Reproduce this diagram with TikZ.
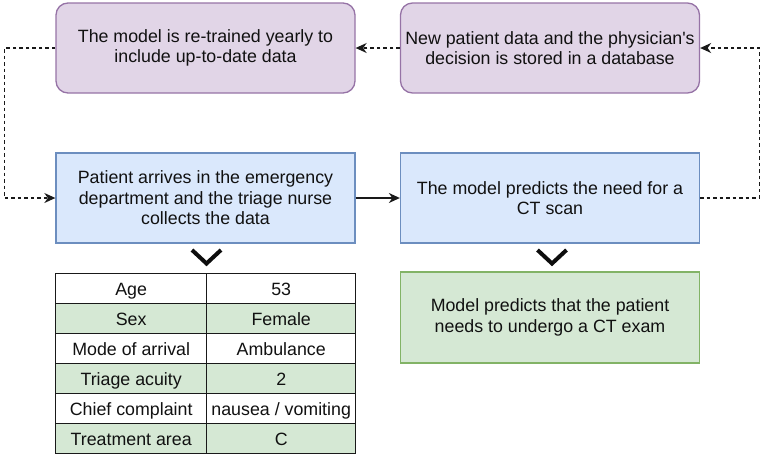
\documentclass[tikz,border=0pt]{standalone}
\usepackage{fontspec}
\setmainfont{Liberation Sans}[Ligatures=TeXOff]
\usetikzlibrary{arrows.meta}
\definecolor{pfill}{HTML}{E1D5E7}
\definecolor{pdraw}{HTML}{9673A6}
\definecolor{bfill}{HTML}{DAE8FC}
\definecolor{bdraw}{HTML}{6C8EBF}
\definecolor{gfill}{HTML}{D5E8D4}
\definecolor{gdraw}{HTML}{82B366}
\definecolor{txtc}{HTML}{111111}
\begin{document}
\begin{tikzpicture}[x=1pt,y=-1pt,
  txt/.style={font=\fontsize{17.8}{20.5}\selectfont, align=center, text=txtc},
  purplebox/.style={txt, rectangle, rounded corners=12pt, fill=pfill, draw=pdraw, line width=1.3pt, minimum width=299pt, minimum height=90pt, inner sep=0pt},
  bluebox/.style={txt, rectangle, fill=bfill, draw=bdraw, line width=1.3pt, minimum width=299pt, minimum height=90pt, inner sep=0pt},
  greenbox/.style={txt, rectangle, fill=gfill, draw=gdraw, line width=1.3pt, minimum width=299pt, minimum height=91pt, inner sep=0pt},
  cellbase/.style={font=\fontsize{17.8}{20}\selectfont, text=txtc, rectangle, draw=black!90, line width=1.4pt, minimum height=30pt, inner sep=0pt, text height=12.6pt, text depth=0pt, anchor=north west},
  lcell/.style={cellbase, minimum width=151pt},
  rcell/.style={cellbase, minimum width=149pt},
  greenrow/.style={fill=gfill},
  whiterow/.style={fill=white},
  conn/.style={line width=1.3pt, black!90, -{Stealth[length=11pt,width=10pt,inset=3.5pt]}},
  dconn/.style={conn, dash pattern=on 3.5pt off 3pt},
  chev/.style={line width=4pt, black!95, miter limit=10}
]
\useasboundingbox (0,0) rectangle (763,456);

\node[purplebox] (p1) at (205.5,48) {The model is re-trained yearly to\\include up-to-date data};
\node[purplebox] (p2) at (550,48) {New patient data and the physician's\\decision is stored in a database};
\node[bluebox] (b1) at (205.5,198) {Patient arrives in the emergency\\department and the triage nurse\\collects the data};
\node[bluebox] (b2) at (550,198) {The model predicts the need for a\\CT scan};
\node[greenbox] (g) at (550,317.5) {Model predicts that the patient\\needs to undergo a CT exam};

% table
\node[lcell, whiterow] (l1) at (55,273) {Age};
\node[rcell, whiterow] (r1) at (206,273) {53};
\node[lcell, greenrow] (l2) at (55,303) {Sex};
\node[rcell, greenrow] (r2) at (206,303) {Female};
\node[lcell, whiterow] (l3) at (55,333) {Mode of arrival};
\node[rcell, whiterow] (r3) at (206,333) {Ambulance};
\node[lcell, greenrow] (l4) at (55,363) {Triage acuity};
\node[rcell, greenrow] (r4) at (206,363) {2};
\node[lcell, whiterow] (l5) at (55,393) {Chief complaint};
\node[rcell, whiterow] (r5) at (206,393) {nausea / vomiting};
\node[lcell, greenrow] (l6) at (55,423) {Treatment area};
\node[rcell, greenrow] (r6) at (206,423) {C};

% chevrons
\draw[chev] (192,250) -- (206.5,263.5) -- (221,250);
\draw[chev] (537.5,250) -- (552,263.5) -- (566.5,250);

% connectors
\draw[conn] (b1.east) -- (b2.west);
\draw[dconn] (p2.west) -- (p1.east);
\draw[dconn] (p1.west) -- ++(-51,0) |- (b1.west);
\draw[dconn] (b2.east) -- ++(59,0) |- (p2.east);
\end{tikzpicture}
\end{document}
